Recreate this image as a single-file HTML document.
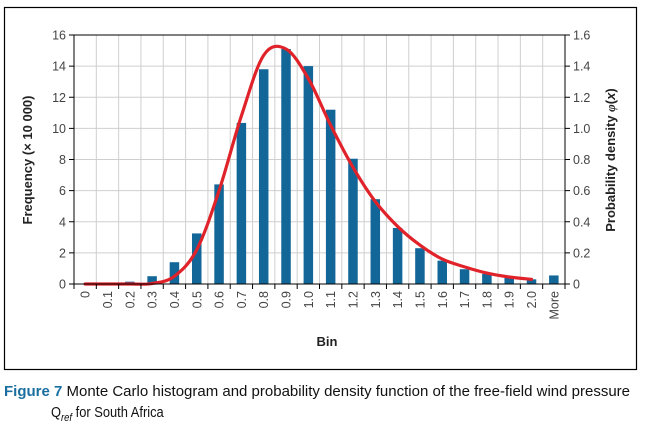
<!DOCTYPE html>
<html><head><meta charset="utf-8"><style>
html,body{margin:0;padding:0;background:#fff;}
svg{display:block;font-family:"Liberation Sans",sans-serif;}
</style></head><body>
<svg id="chart" width="647" height="429" viewBox="0 0 647 429">
<rect x="4.5" y="7.5" width="632" height="362" fill="none" stroke="#000" stroke-width="1.2"/>
<g id="grid"></g>
<g id="bars"></g>
<g id="curve"></g>
<g id="axes"></g>
<text x="32" y="160" transform="rotate(-90 32 160)" text-anchor="middle" font-size="13" font-weight="bold" fill="#222">Frequency (× 10 000)</text>
<text x="615" y="160" transform="rotate(-90 615 160)" text-anchor="middle" font-size="13" font-weight="bold" fill="#222">Probability density <tspan font-style="italic" font-family="Liberation Serif">φ</tspan>(<tspan font-style="italic">x</tspan>)</text>
<text x="327" y="346" text-anchor="middle" font-size="13" font-weight="bold" fill="#222">Bin</text>
<text x="4" y="396" font-size="15" fill="#111" textLength="626" lengthAdjust="spacingAndGlyphs"><tspan font-weight="bold" fill="#1a6fa0">Figure 7</tspan> Monte Carlo histogram and probability density function of the free-field wind pressure</text>
<g transform="translate(51 417) scale(0.86 1)">
<text x="0" y="0" font-size="15" fill="#111">Q<tspan font-size="11" font-style="italic" dy="4">ref</tspan><tspan dy="-4"> for South Africa</tspan></text>
</g>
</svg>
<script>
const categories = ["0","0.1","0.2","0.3","0.4","0.5","0.6","0.7","0.8","0.9","1.0","1.1","1.2","1.3","1.4","1.5","1.6","1.7","1.8","1.9","2.0","More"];
const frequency = [0,0.02,0.15,0.5,1.4,3.25,6.4,10.35,13.8,15.1,14.0,11.2,8.05,5.45,3.6,2.3,1.5,0.95,0.65,0.45,0.3,0.55];
const pdf = [0,0,0,0.003,0.05,0.22,0.6,1.08,1.47,1.51,1.32,1.02,0.75,0.53,0.37,0.25,0.16,0.11,0.07,0.045,0.03];
const leftTicks = [0,2,4,6,8,10,12,14,16];
const rightTicks = ["0","0.2","0.4","0.6","0.8","1.0","1.2","1.4","1.6"];
const NS="http://www.w3.org/2000/svg";
const L=74,R=565,T=35,B=284;
const bw=(R-L)/categories.length;
const xC=i=>L+(i+0.5)*bw;
const yL=v=>B-(v/16)*(B-T);
const yR=v=>B-(v/1.6)*(B-T);
function mk(tag,attrs,parent){const e=document.createElementNS(NS,tag);for(const k in attrs)e.setAttribute(k,attrs[k]);document.getElementById(parent).appendChild(e);return e;}
for(let i=1;i<=categories.length;i++){const x=L+i*bw;
const g=mk('line',{x1:x,x2:x,y1:T,y2:B,stroke:'#cfcfcf','stroke-width':1},'grid');

}
leftTicks.forEach(v=>{const y=yL(v);
const g=mk('line',{x1:L,x2:R,y1:y,y2:y,stroke:'#cfcfcf','stroke-width':1},'grid');

});
frequency.forEach((v,i)=>{const w=9.5;
const b=mk('rect',{x:xC(i)-w/2,y:yL(v),width:w,height:B-yL(v),fill:'#136698'},'bars');

});
const pts=pdf.map((v,i)=>[xC(i),yR(v)]);
let d='M'+pts[0][0]+','+pts[0][1];
for(let i=0;i<pts.length-1;i++){const p0=pts[Math.max(0,i-1)],p1=pts[i],p2=pts[i+1],p3=pts[Math.min(pts.length-1,i+2)];
d+=' C'+(p1[0]+(p2[0]-p0[0])/6)+','+(p1[1]+(p2[1]-p0[1])/6)+' '+(p2[0]-(p3[0]-p1[0])/6)+','+(p2[1]-(p3[1]-p1[1])/6)+' '+p2[0]+','+p2[1];}
const c=mk('path',{d:d,fill:'none',stroke:'#e0232a','stroke-width':3.2,'stroke-linecap':'round'},'curve');


mk('line',{x1:L,x2:L,y1:T,y2:B,stroke:'#000'},'axes');
mk('line',{x1:R,x2:R,y1:T,y2:B,stroke:'#000'},'axes');
mk('line',{x1:L,x2:R,y1:B,y2:B,stroke:'#000'},'axes');
mk('line',{x1:L,x2:R,y1:T,y2:T,stroke:'#000'},'axes');
leftTicks.forEach(v=>{const y=yL(v);mk('line',{x1:L-5,x2:L,y1:y,y2:y,stroke:'#000'},'axes');
const t=mk('text',{x:L-8,y:y+4.5,'text-anchor':'end','font-size':12.5,fill:'#444'},'axes');t.textContent=v;

});
rightTicks.forEach((s,i)=>{const y=yR(parseFloat(s));mk('line',{x1:R,x2:R+5,y1:y,y2:y,stroke:'#000'},'axes');
const t=mk('text',{x:R+8,y:y+4.5,'font-size':12.5,fill:'#444'},'axes');t.textContent=s;

});
for(let i=0;i<=categories.length;i++){const x=L+i*bw;mk('line',{x1:x,x2:x,y1:B,y2:B+5,stroke:'#000'},'axes');}
categories.forEach((s,i)=>{const x=xC(i)+4.5,y=B+7;
const t=mk('text',{x:x,y:y,'text-anchor':'end','font-size':12.5,fill:'#444',transform:'rotate(-90 '+x+' '+y+')'},'axes');t.textContent=s;

});
</script>
</body></html>
